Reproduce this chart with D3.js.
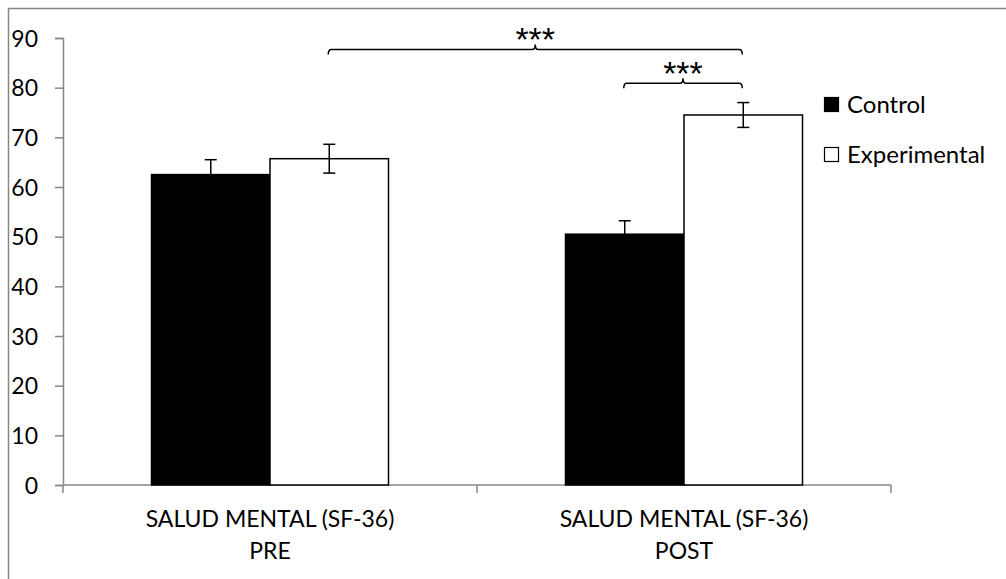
<!DOCTYPE html>
<html>
<head>
<meta charset="utf-8">
<script src="https://cdn.jsdelivr.net/npm/d3@7"></script>
<style>
    body { margin: 0; background: #fff; }
    svg text { font-family: Lato, "Open Sans", sans-serif; fill: #000; }
</style>
</head>
<body>
<div id="chart"></div>
<script>
'use strict';

// data
const categories = ['PRE', 'POST'];
const groups = ['Control', 'Experimental'];
const controlValues = [62.5, 50.5];
const controlErrors = [3.0, 2.7];
const experimentalValues = [65.7, 74.5];
const experimentalErrors = [2.9, 2.5];
const yTicks = [0, 10, 20, 30, 40, 50, 60, 70, 80, 90];
const categoryLabel = 'SALUD MENTAL (SF-36)';
// significance brackets: [category, group] at each end, y level in data units
const brackets = [
    { from: ['PRE', 'Experimental'], to: ['POST', 'Experimental'], level: 87.7, label: '***' },
    { from: ['POST', 'Control'], to: ['POST', 'Experimental'], level: 80.9, label: '***' }
];

const width = 1006, height = 579;
const margin = { top: 38, right: 115, bottom: 94, left: 63 };

const svg = d3.select('#chart').append('svg')
    .attr('width', width)
    .attr('height', height);

// outer frame (only top and left visible)
svg.append('path')
    .attr('d', 'M8.5,' + height + 'V8.5H' + width)
    .attr('fill', 'none')
    .attr('stroke', '#868686')
    .attr('stroke-width', 1.5);

const x = d3.scaleBand()
    .domain(categories)
    .range([margin.left, width - margin.right])
    .paddingInner(0.4275)
    .paddingOuter(0.21375);

const xSub = d3.scaleBand()
    .domain(groups)
    .range([0, x.bandwidth()]);

const y = d3.scaleLinear()
    .domain([0, 90])
    .range([height - margin.bottom, margin.top]);

const rows = [];
categories.forEach(function (c, i) {
    rows.push({ cat: c, group: 'Control', value: controlValues[i], err: controlErrors[i] });
    rows.push({ cat: c, group: 'Experimental', value: experimentalValues[i], err: experimentalErrors[i] });
});

// y axis
const yAxis = svg.append('g')
    .attr('transform', 'translate(' + margin.left + ',0)')
    .call(d3.axisLeft(y).tickValues(yTicks).tickSize(8).tickPadding(17));
yAxis.select('.domain').attr('stroke', '#868686').attr('stroke-width', 1.5);
yAxis.selectAll('.tick line').attr('stroke', '#868686').attr('stroke-width', 1.5);
yAxis.selectAll('.tick text').style('font-size', '23px').attr('dy', '0.36em');

// x axis: ticks at the category borders
const xEdges = [margin.left, (x('PRE') + x.bandwidth() + x('POST')) / 2, width - margin.right];
svg.append('line')
    .attr('x1', margin.left).attr('x2', width - margin.right)
    .attr('y1', y(0)).attr('y2', y(0))
    .attr('stroke', '#868686').attr('stroke-width', 1.5);
svg.selectAll('.xtick').data(xEdges).enter().append('line')
    .attr('class', 'xtick')
    .attr('x1', function (d) { return d; }).attr('x2', function (d) { return d; })
    .attr('y1', y(0)).attr('y2', y(0) + 8)
    .attr('stroke', '#868686').attr('stroke-width', 1.5);

const xLabels = svg.selectAll('.xlabel').data(categories).enter().append('text')
    .attr('class', 'xlabel')
    .attr('x', function (d) { return x(d) + x.bandwidth() / 2; })
    .attr('y', y(0) + 42)
    .style('font-size', '23px')
    .style('text-anchor', 'middle');
xLabels.append('tspan')
    .attr('x', function (d) { return x(d) + x.bandwidth() / 2; })
    .text(categoryLabel);
xLabels.append('tspan')
    .attr('x', function (d) { return x(d) + x.bandwidth() / 2; })
    .attr('dy', 32)
    .text(function (d) { return d; });

// bars
svg.selectAll('.bar').data(rows).enter().append('rect')
    .attr('class', 'bar')
    .attr('x', function (d) { return x(d.cat) + xSub(d.group); })
    .attr('y', function (d) { return y(d.value); })
    .attr('width', xSub.bandwidth())
    .attr('height', function (d) { return y(0) - y(d.value); })
    .attr('fill', function (d) { return d.group === 'Control' ? '#000' : '#fff'; })
    .attr('stroke', '#000')
    .attr('stroke-width', 1.5);

// error bars
const capHalf = 6;
const err = svg.selectAll('.err').data(rows).enter().append('g').attr('class', 'err')
    .attr('stroke', '#000').attr('stroke-width', 1.5);
err.append('line')
    .attr('x1', function (d) { return x(d.cat) + xSub(d.group) + xSub.bandwidth() / 2; })
    .attr('x2', function (d) { return x(d.cat) + xSub(d.group) + xSub.bandwidth() / 2; })
    .attr('y1', function (d) { return y(d.value + d.err); })
    .attr('y2', function (d) { return y(d.value - d.err); });
err.append('line')
    .attr('x1', function (d) { return x(d.cat) + xSub(d.group) + xSub.bandwidth() / 2 - capHalf; })
    .attr('x2', function (d) { return x(d.cat) + xSub(d.group) + xSub.bandwidth() / 2 + capHalf; })
    .attr('y1', function (d) { return y(d.value + d.err); })
    .attr('y2', function (d) { return y(d.value + d.err); });
err.append('line')
    .attr('x1', function (d) { return x(d.cat) + xSub(d.group) + xSub.bandwidth() / 2 - capHalf; })
    .attr('x2', function (d) { return x(d.cat) + xSub(d.group) + xSub.bandwidth() / 2 + capHalf; })
    .attr('y1', function (d) { return y(d.value - d.err); })
    .attr('y2', function (d) { return y(d.value - d.err); });

// significance brackets
function barCenter(p) {
    return x(p[0]) + xSub(p[1]) + xSub.bandwidth() / 2;
}
brackets.forEach(function (b) {
    const x0 = barCenter(b.from) - 1, x1 = barCenter(b.to) - 1;
    const yy = y(b.level);
    const xm = (x0 + x1) / 2;
    const r = 3;
    const path = d3.path();
    path.moveTo(x0, yy + 5);
    path.quadraticCurveTo(x0, yy, x0 + r, yy);
    path.lineTo(xm - r, yy);
    path.quadraticCurveTo(xm, yy, xm, yy - 5);
    path.quadraticCurveTo(xm, yy, xm + r, yy);
    path.lineTo(x1 - r, yy);
    path.quadraticCurveTo(x1, yy, x1, yy + 5);
    svg.append('path')
        .attr('d', path.toString())
        .attr('fill', 'none')
        .attr('stroke', '#000')
        .attr('stroke-width', 1.5);
    svg.append('text')
        .attr('x', xm)
        .attr('y', yy + 2)
        .style('font-family', '"Liberation Sans", Arial, sans-serif')
        .style('font-size', '34px')
        .style('text-anchor', 'middle')
        .text(b.label);
});

// legend
const legend = svg.selectAll('.legend').data(groups).enter().append('g')
    .attr('class', 'legend')
    .attr('transform', function (d, i) { return 'translate(824,' + (97 + i * 50) + ')'; });
legend.append('rect')
    .attr('x', 0.5).attr('y', 0.5)
    .attr('width', 14).attr('height', 14)
    .attr('fill', function (d) { return d === 'Control' ? '#000' : '#fff'; })
    .attr('stroke', '#000')
    .attr('stroke-width', 1.2);
legend.append('text')
    .attr('x', 23)
    .attr('y', 16)
    .style('font-size', '24px')
    .text(function (d) { return d; });
</script>
</body>
</html>
